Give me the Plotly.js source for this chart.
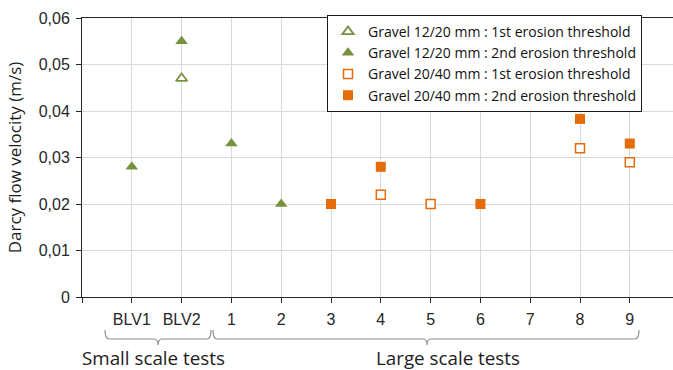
<!DOCTYPE html>
<html>
<head>
<meta charset="utf-8">
<script src="https://cdn.plot.ly/plotly-3.0.1.min.js"></script>
<style>
  html, body { margin: 0; padding: 0; background: #fff; }
  #chart { width: 673px; height: 370px; }
</style>
</head>
<body>
<div id="chart"></div>
<script>
// Test categories along the x axis (position 0 is left empty)
const categories = ['BLV1', 'BLV2', '1', '2', '3', '4', '5', '6', '7', '8', '9'];

// Gravel 12/20 mm
const g1220FirstTests  = ['BLV2'];
const g1220FirstVals   = [0.047];
const g1220SecondTests = ['BLV1', 'BLV2', '1', '2'];
const g1220SecondVals  = [0.028, 0.055, 0.033, 0.020];

// Gravel 20/40 mm
const g2040FirstTests  = ['4', '5', '8', '9'];
const g2040FirstVals   = [0.022, 0.020, 0.032, 0.029];
const g2040SecondTests = ['3', '4', '6', '8', '9'];
const g2040SecondVals  = [0.020, 0.028, 0.020, 0.0383, 0.033];

// Axis tick labels (comma decimal separator)
const yTickVals = [0, 0.01, 0.02, 0.03, 0.04, 0.05, 0.06];
const yTickText = ['0', '0,01', '0,02', '0,03', '0,04', '0,05', '0,06'];

const seriesNames = [
  'Gravel 12/20 mm : 1st erosion threshold',
  'Gravel 12/20 mm : 2nd erosion threshold',
  'Gravel 20/40 mm : 1st erosion threshold',
  'Gravel 20/40 mm : 2nd erosion threshold'
];

const GREEN = '#76923c';
const ORANGE = '#e46c0a';
const TEXT_FONT = 'Open Sans, sans-serif';
const pos = t => categories.indexOf(t) + 1;

const traces = [
  {
    x: g1220FirstTests.map(pos), y: g1220FirstVals, name: seriesNames[0],
    type: 'scatter', mode: 'markers',
    marker: { symbol: 'triangle-up', size: 10, color: '#ffffff', line: { color: GREEN, width: 1.8 } }
  },
  {
    x: g1220SecondTests.map(pos), y: g1220SecondVals, name: seriesNames[1],
    type: 'scatter', mode: 'markers',
    marker: { symbol: 'triangle-up', size: 11, color: GREEN, line: { width: 0 } }
  },
  {
    x: g2040FirstTests.map(pos), y: g2040FirstVals, name: seriesNames[2],
    type: 'scatter', mode: 'markers',
    marker: { symbol: 'square', size: 9, color: '#ffffff', line: { color: ORANGE, width: 1.5 } }
  },
  {
    x: g2040SecondTests.map(pos), y: g2040SecondVals, name: seriesNames[3],
    type: 'scatter', mode: 'markers',
    marker: { symbol: 'square', size: 10, color: ORANGE, line: { width: 0 } }
  }
];

// Plot-area geometry in pixels, used to place the braces and legend
const L = 82, T = 18, W = 673, H = 370, B = 297;
const px = x => (x - L) / (W - L);
const py = y => (B - y) / (B - T);

// Curly brace drawn as an SVG path (paper coordinates)
function brace(x0, xm, x1, yTop, yMid, yTip) {
  const r = 4;
  return 'M' + px(x0) + ',' + py(yTop) +
    ' Q' + px(x0) + ',' + py(yMid) + ' ' + px(x0 + r) + ',' + py(yMid) +
    ' L' + px(xm - r) + ',' + py(yMid) +
    ' Q' + px(xm) + ',' + py(yMid) + ' ' + px(xm) + ',' + py(yTip) +
    ' Q' + px(xm) + ',' + py(yMid) + ' ' + px(xm + r) + ',' + py(yMid) +
    ' L' + px(x1 - r) + ',' + py(yMid) +
    ' Q' + px(x1) + ',' + py(yMid) + ' ' + px(x1) + ',' + py(yTop);
}

const braceLine = { color: '#8c8c8c', width: 1.2 };

const layout = {
  width: W, height: H,
  margin: { l: L, r: 0, t: T, b: H - B, pad: 0 },
  paper_bgcolor: '#ffffff', plot_bgcolor: '#ffffff',
  font: { family: 'Liberation Sans, Arial, sans-serif', size: 16, color: '#262626' },
  showlegend: true,
  legend: {
    x: px(343 - 16), xanchor: 'left', y: py(15), yanchor: 'top',
    bgcolor: '#ffffff', bordercolor: '#1a1a1a', borderwidth: 1,
    font: { family: TEXT_FONT, size: 14, color: '#111111' },
    itemwidth: 30, tracegroupgap: 0
  },
  xaxis: {
    range: [0, (W - L) / 49.8],
    tickvals: [0].concat(categories.map(pos)),
    ticktext: [''].concat(categories),
    ticks: 'outside', ticklen: 5, tickcolor: '#262626', tickwidth: 1,
    ticklabelstandoff: 3,
    showgrid: true, gridcolor: '#d9d9d9', gridwidth: 1,
    showline: true, linecolor: '#262626', linewidth: 1, mirror: true,
    zeroline: false, fixedrange: true
  },
  yaxis: {
    range: [0, 0.06],
    tickvals: yTickVals, ticktext: yTickText,
    ticks: 'outside', ticklen: 5, tickcolor: '#262626', tickwidth: 1,
    ticklabelstandoff: 3,
    showgrid: true, gridcolor: '#d9d9d9', gridwidth: 1,
    showline: true, linecolor: '#262626', linewidth: 1,
    zeroline: false, fixedrange: true,
    title: {
      text: 'Darcy flow velocity (m/s)',
      font: { family: TEXT_FONT, size: 17, color: '#1c1c1c' },
      standoff: 12
    }
  },
  shapes: [
    { type: 'path', xref: 'paper', yref: 'paper', path: brace(105, 158, 211, 330, 339, 345), line: braceLine },
    { type: 'path', xref: 'paper', yref: 'paper', path: brace(213, 427, 639, 330, 339, 345), line: braceLine }
  ],
  annotations: [
    { xref: 'paper', yref: 'paper', x: px(153), y: py(358), text: 'Small scale tests', showarrow: false,
      xanchor: 'center', yanchor: 'middle', font: { family: TEXT_FONT, size: 18.8, color: '#1c1c1c' } },
    { xref: 'paper', yref: 'paper', x: px(448), y: py(358), text: 'Large scale tests', showarrow: false,
      xanchor: 'center', yanchor: 'middle', font: { family: TEXT_FONT, size: 18.8, color: '#1c1c1c' } }
  ]
};

Plotly.newPlot('chart', traces, layout, { staticPlot: true, displayModeBar: false });
</script>
</body>
</html>
